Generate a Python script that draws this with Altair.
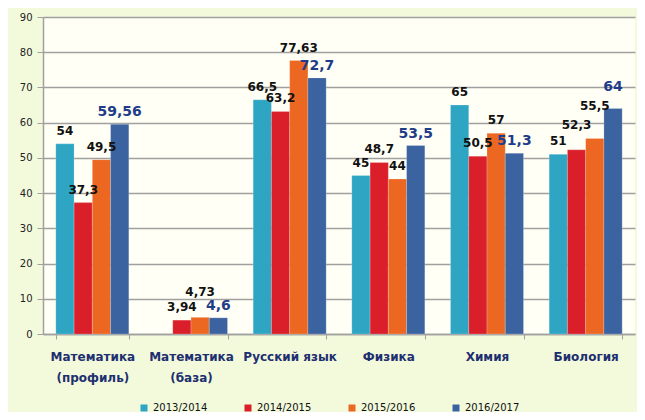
import altair as alt
import pandas as pd

categories = ["Математика|(профиль)", "Математика|(база)", "Русский язык",
              "Физика", "Химия", "Биология"]
years = ["2013/2014", "2014/2015", "2015/2016", "2016/2017"]
v2013 = [54, None, 66.5, 45, 65, 51]
v2014 = [37.3, 3.94, 63.2, 48.7, 50.5, 52.3]
v2015 = [49.5, 4.73, 77.63, 44, 57, 55.5]
v2016 = [59.56, 4.6, 72.7, 53.5, 51.3, 64]
colors = ["#2EA5C3", "#DA1F2B", "#EC6721", "#3A63A0"]

rows = []
for yr, vals in zip(years, [v2013, v2014, v2015, v2016]):
    for c, v in zip(categories, vals):
        if v is None:
            continue
        rows.append({"cat": c, "year": yr, "value": v,
                     "label": f"{v:g}".replace(".", ",")})
df = pd.DataFrame(rows)

W, H = 592, 317

x = alt.X("cat:N", sort=categories, title=None,
          scale=alt.Scale(domain=categories, paddingInner=0.26, paddingOuter=0.13),
          axis=alt.Axis(labelExpr="split(datum.label, '|')", labelAngle=0,
                        labelFont="DejaVu Sans", labelFontWeight="bold",
                        labelFontSize=12, labelColor="#1D2F6F",
                        labelPadding=12, labelLineHeight=21,
                        tickBand="extent", tickSize=5, tickColor="#A0A0A0",
                        domainColor="#A0A0A0", domainWidth=1.5))
xo = alt.XOffset("year:N", sort=years, scale=alt.Scale(domain=years))
y = alt.Y("value:Q", title=None, scale=alt.Scale(domain=[0, 90], nice=False),
          axis=alt.Axis(values=list(range(0, 91, 10)), gridColor="#A0A0A0",
                        gridWidth=1.5, domainColor="#A0A0A0", domainWidth=1.5,
                        tickColor="#A0A0A0", tickSize=6, labelFontSize=10,
                        labelFont="DejaVu Sans", labelColor="#222222",
                        labelPadding=5))
color = alt.Color("year:N", sort=years,
                  scale=alt.Scale(domain=years, range=colors),
                  legend=alt.Legend(title=None, orient="none", direction="horizontal",
                                    columns=4, legendX=96, legendY=386,
                                    symbolType="square", symbolSize=49,
                                    symbolStrokeWidth=0, labelFontSize=10,
                                    labelFont="DejaVu Sans", labelColor="#111111",
                                    labelOffset=4, columnPadding=35))

base = alt.Chart(df)

bars = base.mark_bar(stroke="#FFFFFF", strokeOpacity=0.35, strokeWidth=0.6).encode(
    x=x, xOffset=xo, y=y, color=color)


def pick(cat, yr):
    return (alt.datum.cat == cat) & (alt.datum.year == yr)


raised12 = pick("Математика|(база)", "2015/2016") | pick("Биология", "2014/2015")
raised20 = pick("Биология", "2015/2016")
raised_blue = pick("Биология", "2016/2017")
last = alt.datum.year == "2016/2017"


def labels(cond, dy, size, col):
    return base.mark_text(baseline="bottom", dy=dy, font="DejaVu Sans",
                          fontWeight="bold", fontSize=size, color=col).encode(
        x=x, xOffset=xo, y=y, text="label:N"
    ).transform_filter(cond)


black = labels(~last & ~raised12 & ~raised20, -6, 12, "#111111")
black12 = labels(raised12, -18, 12, "#111111")
black20 = labels(raised20, -26, 12, "#111111")
blue = labels(last & ~raised_blue, -5, 14, "#1F3C88")
blue10 = labels(raised_blue, -15, 14, "#1F3C88")

chart = alt.layer(bars, black, black12, black20, blue, blue10).properties(
    width=W, height=H,
    autosize=alt.AutoSizeParams(type="none"),
    padding={"left": 35, "top": 9, "right": 2, "bottom": 78},
    background="#F3FADC",
).configure_view(stroke=None, fill="#FFFFF5")

chart.save("out.html", embed_options={"renderer": "svg", "actions": False})
